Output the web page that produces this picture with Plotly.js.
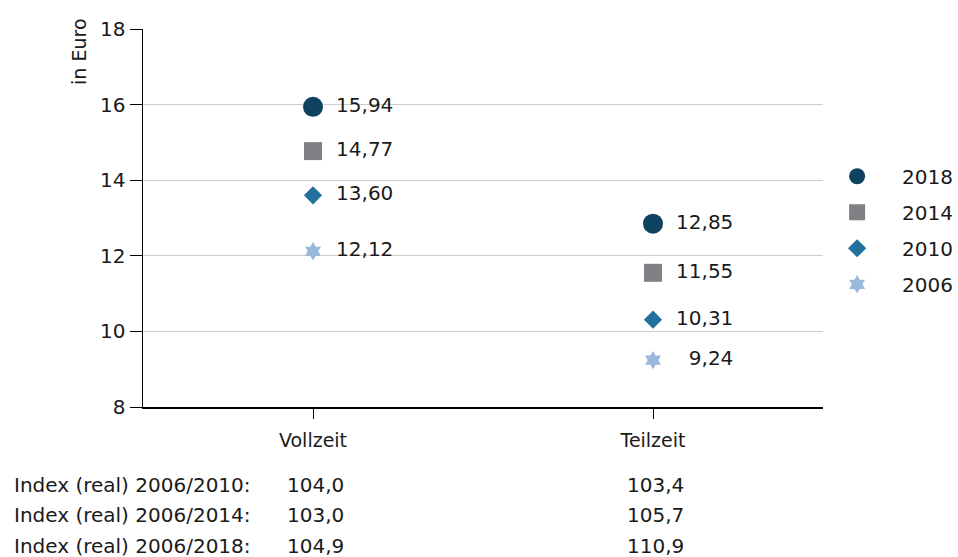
<!DOCTYPE html>
<html>
<head>
<meta charset="utf-8">
<script src="https://cdn.plot.ly/plotly-3.0.1.min.js"></script>
<style>html,body{margin:0;padding:0;background:#fff;}#chart{width:958px;height:557px;}</style>
</head>
<body>
<div id="chart"></div>
<script>
const categories = ["Vollzeit", "Teilzeit"];
const years = ["2018", "2014", "2010", "2006"];
const v2018 = [15.94, 12.85];
const v2014 = [14.77, 11.55];
const v2010 = [13.60, 10.31];
const v2006 = [12.12, 9.24];
const yTicks = [8, 10, 12, 14, 16, 18];
const indexLabels = ["Index (real) 2006/2010:", "Index (real) 2006/2014:", "Index (real) 2006/2018:"];
const indexVollzeit = ["104,0", "103,0", "104,9"];
const indexTeilzeit = ["103,4", "105,7", "110,9"];

const FONT = "DejaVu Sans, sans-serif";
const TXT = "#1a1a1a";
const series = [v2018, v2014, v2010, v2006];
const colors = ["#0f425e", "#808085", "#22709e", "#9ab8dc"];
const symbols = ["circle", "square", "diamond", "hexagram"];
const sizes = [20, 18, 14, 14];

function fmt(v) {
  let s = v.toFixed(2).replace(".", ",");
  while (s.length < 5) s = "\u2007" + s;
  return "\u2007 \u2009" + s;
}

const markerTraces = series.map((vals, i) => ({
  type: "scatter",
  mode: "markers",
  name: years[i],
  legendgroup: years[i],
  x: categories,
  y: vals,
  marker: {symbol: symbols[i], size: sizes[i], color: colors[i], line: {width: 0}},
  cliponaxis: false,
  hoverinfo: "x+y"
}));
const textTraces = series.map((vals, i) => ({
  type: "scatter",
  mode: "text",
  showlegend: false,
  legendgroup: years[i],
  x: categories,
  y: vals,
  text: vals.map(fmt),
  textposition: "middle right",
  textfont: {family: FONT, size: 20, color: TXT},
  cliponaxis: false,
  hoverinfo: "skip"
}));

const annotations = [{
  text: "in Euro", xref: "paper", yref: "paper", x: -0.095, y: 1.033,
  xanchor: "center", yanchor: "top", textangle: -90, showarrow: false,
  font: {family: FONT, size: 19, color: TXT}
}];
indexLabels.forEach((lab, i) => {
  const yy = -0.207 - i * 0.080;
  annotations.push({text: lab, xref: "paper", yref: "paper", x: -0.193, y: yy,
    xanchor: "left", yanchor: "middle", showarrow: false, font: {family: FONT, size: 20, color: TXT}});
  annotations.push({text: indexVollzeit[i], xref: "x", yref: "paper", x: 0, y: yy, xshift: 33,
    xanchor: "right", yanchor: "middle", showarrow: false, font: {family: FONT, size: 20, color: TXT}});
  annotations.push({text: indexTeilzeit[i], xref: "x", yref: "paper", x: 1, y: yy, xshift: 33,
    xanchor: "right", yanchor: "middle", showarrow: false, font: {family: FONT, size: 20, color: TXT}});
});

const layout = {
  width: 958, height: 557,
  margin: {l: 143, r: 135, t: 29, b: 150, autoexpand: false},
  paper_bgcolor: "#fff", plot_bgcolor: "#fff",
  font: {family: FONT, color: TXT},
  showlegend: true,
  legend: {x: 0.984, y: 0.662, xref: "paper", xanchor: "left", yanchor: "top",
    bgcolor: "rgba(0,0,0,0)", traceorder: "grouped",
    font: {family: FONT, size: 20, color: TXT}, itemwidth: 80, tracegroupgap: 7},
  xaxis: {
    type: "category", range: [-0.5, 1.5], showgrid: false, zeroline: false,
    showline: true, linecolor: "#000", linewidth: 1.5,
    ticks: "outside", ticklen: 10, tickcolor: "#000", tickwidth: 1,
    tickfont: {family: FONT, size: 19, color: TXT}, ticklabelstandoff: 6
  },
  yaxis: {
    range: [8, 18], tickvals: yTicks, showgrid: true, gridcolor: "#cccccc", gridwidth: 1.2,
    zeroline: false, showline: true, linecolor: "#000", linewidth: 1.5,
    ticks: "outside", ticklen: 12, tickcolor: "#000", tickwidth: 1,
    tickfont: {family: FONT, size: 20, color: TXT}
  },
  annotations: annotations
};

Plotly.newPlot("chart", markerTraces.concat(textTraces), layout, {displayModeBar: false, staticPlot: true});
</script>
</body>
</html>
